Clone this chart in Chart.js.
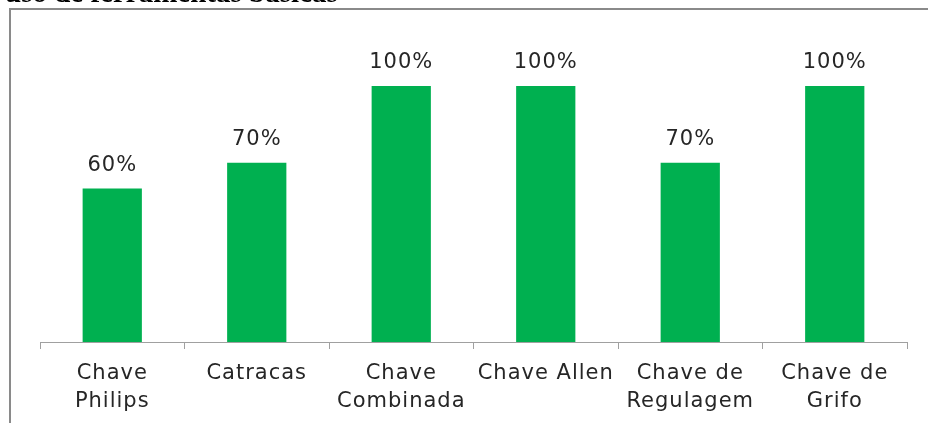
<!DOCTYPE html>
<html>
<head>
<meta charset="utf-8">
<script src="https://cdn.jsdelivr.net/npm/chart.js@4"></script>
<style>
  html, body { margin: 0; padding: 0; background: #fff; }
  #wrap { width: 928px; height: 423px; position: relative; }
</style>
</head>
<body>
<div id="wrap"><canvas id="c" width="928" height="423"></canvas></div>
<script>
// Ferramentas avaliadas e percentual de uso
const categories = [
  ['Chave', 'Philips'],
  'Catracas',
  ['Chave', 'Combinada'],
  'Chave Allen',
  ['Chave de', 'Regulagem'],
  ['Chave de', 'Grifo']
];
const values = [60, 70, 100, 100, 70, 100];
const titleText = 'uso de ferramentas básicas';

const labelFont = '"DejaVu Sans", "Open Sans", sans-serif';

// Moldura e título (parcialmente cortado no topo)
const framePlugin = {
  id: 'frame',
  beforeDraw(chart) {
    const ctx = chart.ctx;
    ctx.save();
    ctx.fillStyle = '#fff';
    ctx.fillRect(0, 0, chart.width, chart.height);
    ctx.fillStyle = '#000';
    ctx.font = 'bold 29px "Liberation Serif", "DejaVu Serif", serif';
    ctx.textBaseline = 'alphabetic';
    ctx.textAlign = 'left';
    ctx.fillText(titleText, 5, 1.5);
    ctx.strokeStyle = '#8a8a8a';
    ctx.lineWidth = 2;
    ctx.beginPath();
    ctx.moveTo(10, chart.height);
    ctx.lineTo(10, 9);
    ctx.lineTo(chart.width, 9);
    ctx.stroke();
    ctx.restore();
    // espaçamento entre letras para os rótulos do eixo
    ctx.letterSpacing = '1px';
  }
};

// Rótulos de valor acima das barras
const valueLabels = {
  id: 'valueLabels',
  afterDatasetsDraw(chart) {
    const ctx = chart.ctx;
    const meta = chart.getDatasetMeta(0);
    ctx.save();
    ctx.letterSpacing = '1px';
    ctx.fillStyle = '#262626';
    ctx.font = '21px ' + labelFont;
    ctx.textAlign = 'center';
    ctx.textBaseline = 'middle';
    meta.data.forEach((bar, i) => {
      ctx.fillText(values[i] + '%', bar.x, bar.y - 23);
    });
    ctx.restore();
  }
};

new Chart(document.getElementById('c'), {
  type: 'bar',
  data: {
    labels: categories,
    datasets: [{
      data: values,
      backgroundColor: '#00B050',
      borderWidth: 0,
      categoryPercentage: 1,
      barPercentage: 0.41
    }]
  },
  options: {
    responsive: false,
    animation: false,
    events: [],
    layout: { padding: { left: 40, right: 21, top: 86, bottom: 0 } },
    plugins: { legend: { display: false }, tooltip: { enabled: false } },
    scales: {
      x: {
        offset: true,
        grid: {
          display: true,
          offset: true,
          drawOnChartArea: false,
          drawTicks: true,
          tickLength: 7,
          color: '#a0a0a0',
          lineWidth: 1
        },
        border: { display: true, color: '#a0a0a0', width: 1 },
        ticks: {
          color: '#262626',
          padding: 10,
          maxRotation: 0,
          autoSkip: false,
          font: { family: labelFont, size: 21, lineHeight: 1.34 }
        },
        afterFit(scale) { scale.height = 81; }
      },
      y: {
        display: false,
        min: 0,
        max: 100
      }
    }
  },
  plugins: [framePlugin, valueLabels]
});
</script>
</body>
</html>
